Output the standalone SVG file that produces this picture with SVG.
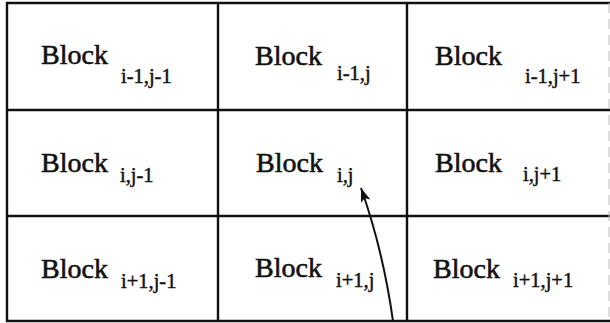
<svg xmlns="http://www.w3.org/2000/svg" width="610" height="323" viewBox="0 0 610 323">
<defs>
<style>
.grid{stroke:#111;stroke-width:2.4;fill:none;stroke-linecap:square}
.edge{stroke:#bbb;stroke-width:1;stroke-dasharray:10 6;fill:none}
.b{font-family:"Liberation Serif","Times New Roman",serif;font-size:28px;fill:#111;stroke:#111;stroke-width:0.6}
.s{font-family:"Liberation Serif","Times New Roman",serif;font-size:20.5px;fill:#111;stroke:#111;stroke-width:0.45}
.conn{stroke:#111;stroke-width:2;fill:none}
</style>
<marker id="ah" markerUnits="userSpaceOnUse" markerWidth="16" markerHeight="12" refX="14" refY="5" orient="auto">
<path d="M0,0 L14,5 L0,10 L3,5 Z" fill="#111"/>
</marker>
</defs>
<g id="grid">
<path class="grid" d="M7,3 H609 M7,110 H609 M7,216 H609 M7,321 H609 M7,3 V321 M218,3 V321 M407,3 V321"/>
<path class="edge" d="M609,3 V321"/>
</g>
<g id="block-r1c1"><text class="b" x="41" y="64">Block</text><text class="s" x="121" y="83">i-1,j-1</text></g>
<g id="block-r1c2"><text class="b" x="255" y="65">Block</text><text class="s" x="337" y="80">i-1,j</text></g>
<g id="block-r1c3"><text class="b" x="435" y="65">Block</text><text class="s" x="525" y="83">i-1,j+1</text></g>
<g id="block-r2c1"><text class="b" x="41" y="172">Block</text><text class="s" x="120" y="182">i,j-1</text></g>
<g id="block-r2c2"><text class="b" x="256" y="172">Block</text><text class="s" x="337" y="182">i,j</text></g>
<g id="block-r2c3"><text class="b" x="435" y="172">Block</text><text class="s" x="523" y="181">i,j+1</text></g>
<g id="block-r3c1"><text class="b" x="41" y="278">Block</text><text class="s" x="121" y="288">i+1,j-1</text></g>
<g id="block-r3c2"><text class="b" x="255" y="277">Block</text><text class="s" x="336" y="287">i+1,j</text></g>
<g id="block-r3c3"><text class="b" x="433" y="278">Block</text><text class="s" x="513" y="287">i+1,j+1</text></g>
<g id="connectors">
<path class="conn" d="M393,321 Q383,250 361,188" marker-end="url(#ah)"/>
</g>
</svg>
